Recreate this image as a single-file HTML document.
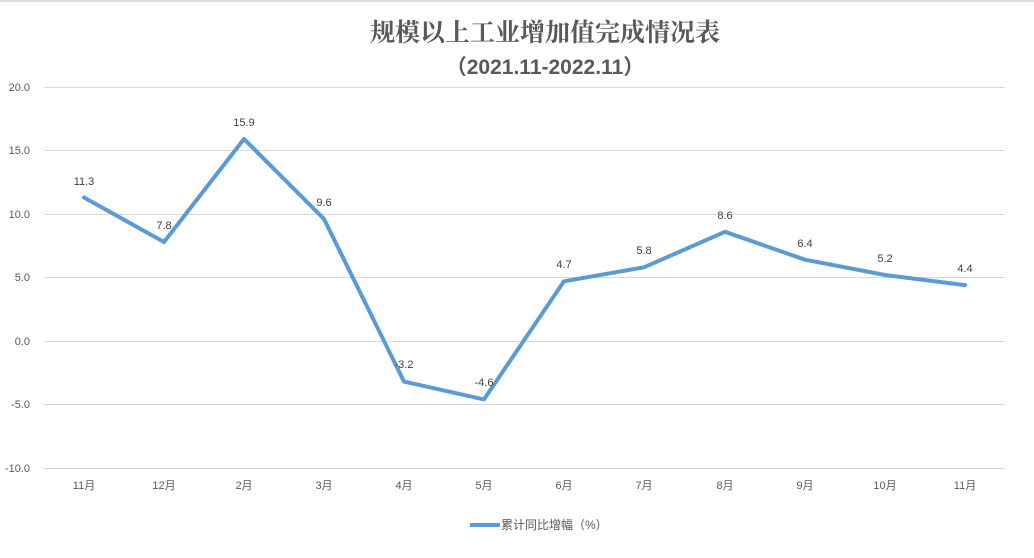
<!DOCTYPE html>
<html><head><meta charset="utf-8"><style>
body{margin:0;background:#fff;}
svg text{font-family:"Liberation Sans","Noto Sans CJK SC",sans-serif;}
</style></head><body>
<svg width="1034" height="553" viewBox="0 0 1034 553" xmlns="http://www.w3.org/2000/svg">
<rect width="1034" height="553" fill="#fff"/>
<line x1="0" y1="1" x2="1034" y2="1" stroke="#bbb" stroke-width="1"/>
<text x="545" y="41" text-anchor="middle" font-size="25" font-weight="bold" fill="#595959" style="font-family:'Noto Serif CJK SC',serif">规模以上工业增加值完成情况表</text>
<text x="545" y="74" text-anchor="middle" font-size="21" font-weight="bold" fill="#595959">（2021.11-2022.11）</text>
<g stroke="#d9d9d9" stroke-width="1">
<line x1="44" y1="87.5" x2="1005" y2="87.5"/>
<line x1="44" y1="150.5" x2="1005" y2="150.5"/>
<line x1="44" y1="214.5" x2="1005" y2="214.5"/>
<line x1="44" y1="277.5" x2="1005" y2="277.5"/>
<line x1="44" y1="341.5" x2="1005" y2="341.5"/>
<line x1="44" y1="404.5" x2="1005" y2="404.5"/>
<line x1="44" y1="468.5" x2="1005" y2="468.5"/>
</g>
<g font-size="11" fill="#595959" text-anchor="end">
<text x="30" y="91">20.0</text><text x="30" y="154">15.0</text><text x="30" y="218">10.0</text>
<text x="30" y="281">5.0</text><text x="30" y="345">0.0</text><text x="30" y="408">-5.0</text><text x="30" y="472">-10.0</text>
</g>
<g font-size="11" fill="#595959" text-anchor="middle">
<text x="84" y="489">11月</text><text x="164" y="489">12月</text><text x="244" y="489">2月</text><text x="324" y="489">3月</text>
<text x="404" y="489">4月</text><text x="484" y="489">5月</text><text x="564" y="489">6月</text><text x="644" y="489">7月</text>
<text x="725" y="489">8月</text><text x="805" y="489">9月</text><text x="885" y="489">10月</text><text x="965" y="489">11月</text>
</g>
<polyline fill="none" stroke="#5b9bd5" stroke-width="4" stroke-linejoin="round" stroke-linecap="round"
points="84,197.5 164,242 244,139 324,219 404,381.6 484,399.4 564,281.3 644,267.3 725,231.8 805,259.7 885,275 965,285.1"/>
<g font-size="11" fill="#404040" text-anchor="middle">
<text x="84" y="185">11.3</text><text x="164" y="229">7.8</text><text x="244" y="126">15.9</text><text x="324" y="206">9.6</text>
<text x="404" y="368">-3.2</text><text x="484" y="386">-4.6</text><text x="564" y="268">4.7</text><text x="644" y="254">5.8</text>
<text x="725" y="219">8.6</text><text x="805" y="247">6.4</text><text x="885" y="262">5.2</text><text x="965" y="272">4.4</text>
</g>
<line x1="470" y1="525" x2="500" y2="525" stroke="#5b9bd5" stroke-width="4"/>
<text x="501" y="529" font-size="12" fill="#595959">累计同比增幅（%）</text>
</svg>
</body></html>
